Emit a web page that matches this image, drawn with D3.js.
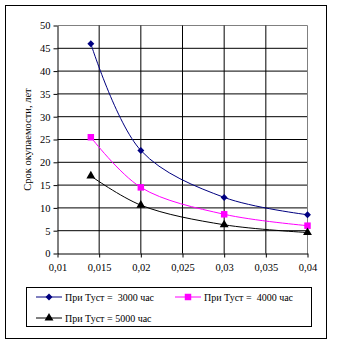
<!DOCTYPE html>
<html><head><meta charset="utf-8">
<script src="https://cdn.jsdelivr.net/npm/d3@7"></script>
<style>body{margin:0;background:#fff}svg{display:block}text{font-family:"Liberation Serif","Times New Roman",serif;fill:#000}</style>
</head><body><svg id="c" width="337" height="346"></svg>
<script>
const xValues = [0.014, 0.02, 0.03, 0.04];
const series3000 = [46.0, 22.6, 12.3, 8.5];
const series4000 = [25.5, 14.5, 8.6, 6.1];
const series5000 = [17.0, 10.6, 6.3, 4.6];
const seriesNames = ["При Туст =  3000 час", "При Туст =  4000 час", "При Туст = 5000 час"];
const xTicks = [0.01, 0.015, 0.02, 0.025, 0.03, 0.035, 0.04];
const xTickLabels = ["0,01", "0,015", "0,02", "0,025", "0,03", "0,035", "0,04"];
const yTicks = [0, 5, 10, 15, 20, 25, 30, 35, 40, 45, 50];
const yTitle = "Срок окупаемости, лет";

const svg = d3.select("#c");
svg.append("rect").attr("x",5.5).attr("y",5.5).attr("width",321).attr("height",333)
  .attr("fill","#fff").attr("stroke","#000").attr("stroke-width",1);

const x = d3.scaleLinear().domain([0.01,0.04]).range([57.5,307.5]);
const y = d3.scaleLinear().domain([0,50]).range([253.5,25.5]);

const g = svg.append("g");
g.selectAll("line.h").data(yTicks.filter(d=>d>0)).join("line")
  .attr("x1",x(0.01)).attr("x2",x(0.04)).attr("y1",d=>y(d)).attr("y2",d=>y(d))
  .attr("stroke",d=>d===50?"#808080":"#000").attr("stroke-width",1);
g.selectAll("line.v").data(xTicks.filter(d=>d>0.01)).join("line")
  .attr("y1",y(0)).attr("y2",y(50)).attr("x1",d=>x(d)).attr("x2",d=>x(d))
  .attr("stroke",d=>d===0.04?"#808080":"#000").attr("stroke-width",1);

const xAxis = d3.axisBottom(x).tickValues(xTicks).tickFormat((d,i)=>xTickLabels[i]).tickSize(4).tickSizeOuter(0).tickPadding(6);
const ax = svg.append("g").attr("transform",`translate(0,${y(0)})`).call(xAxis);
const yAxis = d3.axisLeft(y).tickValues(yTicks).tickSize(4).tickSizeOuter(0).tickPadding(3);
const ay = svg.append("g").attr("transform",`translate(${x(0.01)},0)`).call(yAxis);
[ax,ay].forEach(a=>{
  a.attr("font-family","Liberation Serif");
  a.selectAll("path,line").attr("stroke","#000");
  a.selectAll("text").attr("font-size","10.5px").style("font-family","'Liberation Serif', serif").attr("fill","#000");
});

svg.append("text").attr("transform",`translate(31,${y(25)}) rotate(-90)`)
  .attr("text-anchor","middle").attr("font-size","10.5px").text(yTitle);

const line = d3.line().x(d=>x(d[0])).y(d=>y(d[1])).curve(d3.curveCatmullRom.alpha(0.5));
const data = [
  {vals:series3000,color:"#000080",shape:d3.symbolSquare,size:24,rot:45},
  {vals:series4000,color:"#FF00FF",shape:d3.symbolSquare,size:42,rot:0},
  {vals:series5000,color:"#000000",shape:d3.symbolTriangle,size:34,rot:0}
];
data.forEach(s=>{
  const pts = xValues.map((xv,i)=>[xv,s.vals[i]]);
  svg.append("path").attr("d",line(pts)).attr("fill","none").attr("stroke",s.color).attr("stroke-width",1);
  svg.selectAll(null).data(pts).join("path")
    .attr("transform",d=>`translate(${x(d[0])},${y(d[1])}) rotate(${s.rot})`)
    .attr("d",d3.symbol(s.shape,s.size)).attr("fill",s.color);
});

svg.append("rect").attr("x",26.5).attr("y",287.5).attr("width",285).attr("height",39)
  .attr("fill","#fff").attr("stroke","#000");
const legPos = [[36,297],[175,297],[36,318]];
data.forEach((s,i)=>{
  const [lx,ly]=legPos[i];
  svg.append("line").attr("x1",lx).attr("x2",lx+26).attr("y1",ly).attr("y2",ly).attr("stroke",s.color);
  svg.append("path").attr("transform",`translate(${lx+13},${ly}) rotate(${s.rot})`).attr("d",d3.symbol(s.shape,s.size)).attr("fill",s.color);
  svg.append("text").attr("x",lx+29).attr("y",ly+3.5).attr("font-size","10px")
    .style("white-space","pre").text(seriesNames[i]);
});
</script></body></html>
